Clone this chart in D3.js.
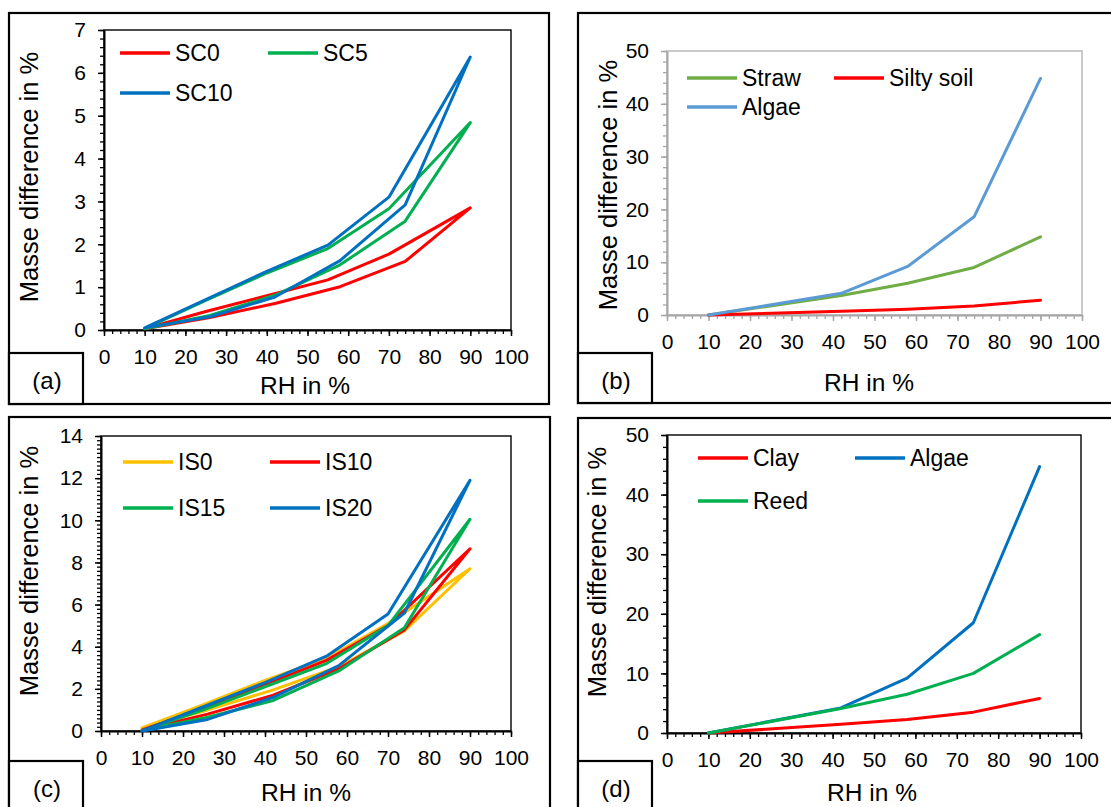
<!DOCTYPE html>
<html>
<head>
<meta charset="utf-8">
<script src="https://cdn.jsdelivr.net/npm/d3@7"></script>
<style>
  html, body { margin: 0; padding: 0; background: #fff; }
  svg { display: block; font-family: "Liberation Sans", Arial, sans-serif; }
</style>
</head>
<body>
<svg id="chart" width="1111" height="807"></svg>
<script>
// ---------- data ----------
const xTicks = [0, 10, 20, 30, 40, 50, 60, 70, 80, 90, 100];
const rhAds = [10, 26, 42, 58, 74, 90];   // adsorption path
const rhDes = [90, 70, 55, 40, 25, 10];   // desorption path

// panel (a)
const namesA = ["SC0", "SC5", "SC10"];
const sc0Ads = [0.03, 0.29, 0.62, 1.01, 1.60, 2.85];
const sc0Des = [2.85, 1.77, 1.17, 0.80, 0.43, 0.03];
const sc5Ads = [0.03, 0.34, 0.81, 1.52, 2.54, 4.84];
const sc5Des = [4.84, 2.83, 1.90, 1.33, 0.69, 0.03];
const sc10Ads = [0.05, 0.31, 0.77, 1.62, 2.92, 6.37];
const sc10Des = [6.37, 3.10, 1.98, 1.37, 0.71, 0.05];

// panel (b)
const namesB = ["Straw", "Silty soil", "Algae"];
const rhB = [10, 42, 58, 74, 90];
const strawB = [0, 3.7, 6.0, 9.0, 14.8];
const siltyB = [0, 0.7, 1.1, 1.7, 2.8];
const algaeB = [0, 4.1, 9.2, 18.6, 44.8];

// panel (c)
const namesC = ["IS0", "IS10", "IS15", "IS20"];
const is0Ads = [0.15, 1.0, 1.95, 3.05, 4.75, 7.7];
const is0Des = [7.7, 5.1, 3.45, 2.4, 1.25, 0.15];
const is10Ads = [0.05, 0.8, 1.7, 2.95, 4.8, 8.65];
const is10Des = [8.65, 5.0, 3.35, 2.2, 1.05, 0.05];
const is15Ads = [0.02, 0.65, 1.45, 2.85, 4.9, 10.05];
const is15Des = [10.05, 5.0, 3.2, 2.1, 1.0, 0.02];
const is20Ads = [0, 0.55, 1.6, 3.1, 5.6, 11.9];
const is20Des = [11.9, 5.55, 3.55, 2.3, 1.15, 0];

// panel (d)
const namesD = ["Clay", "Algae", "Reed"];
const rhD = [10, 42, 58, 74, 90];
const clayD = [0, 1.45, 2.25, 3.5, 5.8];
const algaeD = [0, 4.2, 9.2, 18.5, 44.7];
const reedD = [0, 4.1, 6.5, 10.0, 16.5];

// ---------- helpers ----------
const svg = d3.select("#chart");
const zip = (xs, ys) => xs.map((x, i) => [x, ys[i]]);
const loop = (ads, des) => zip(rhAds, ads).concat(zip(rhDes, des));
const FONT = "Liberation Sans, Arial, sans-serif";

function panel(cfg) {
  const g = svg.append("g");
  // outer frame
  g.append("rect").attr("x", cfg.frame[0]).attr("y", cfg.frame[1])
    .attr("width", cfg.frame[2]).attr("height", cfg.frame[3])
    .attr("fill", "none").attr("stroke", "#000").attr("stroke-width", 2.2);
  // label box
  g.append("rect").attr("x", cfg.lbox[0]).attr("y", cfg.lbox[1])
    .attr("width", cfg.lbox[2]).attr("height", cfg.lbox[3])
    .attr("fill", "#fff").attr("stroke", "#000").attr("stroke-width", 2.2);
  g.append("text").attr("x", cfg.lbox[0] + cfg.lbox[2] / 2 + 1).attr("y", cfg.lblY)
    .attr("text-anchor", "middle").attr("font-size", 24).text(cfg.label);

  const x = d3.scaleLinear().domain([0, 100]).range([cfg.x0, cfg.x1]);
  const y = d3.scaleLinear().domain([0, cfg.ymax]).range([cfg.yb, cfg.yt]);
  const ac = cfg.axisColor;

  // plot area frame
  g.append("rect").attr("x", cfg.x0).attr("y", cfg.yt)
    .attr("width", cfg.x1 - cfg.x0).attr("height", cfg.yb - cfg.yt)
    .attr("fill", "none").attr("stroke", cfg.frameColor).attr("stroke-width", 1.4);

  // minor ticks
  const minorX = d3.range(0, 100.001, 2);
  g.append("g").attr("transform", `translate(0,${cfg.yb})`)
    .call(d3.axisBottom(x).tickValues(minorX).tickSize(4).tickFormat(""))
    .call(s => s.select(".domain").remove())
    .call(s => s.selectAll("line").attr("stroke", ac).attr("stroke-width", 1.3));
  const minorY = d3.range(0, cfg.ymax + 1e-6, cfg.yminor);
  g.append("g").attr("transform", `translate(${cfg.x0},0)`)
    .call(d3.axisLeft(y).tickValues(minorY).tickSize(4).tickFormat(""))
    .call(s => s.select(".domain").remove())
    .call(s => s.selectAll("line").attr("stroke", ac).attr("stroke-width", 1.3));

  // major axes
  const gx = g.append("g").attr("transform", `translate(0,${cfg.yb})`)
    .call(d3.axisBottom(x).tickValues(xTicks).tickSize(6).tickSizeOuter(0)
      .tickPadding(13).tickFormat(d3.format("d")));
  gx.select(".domain").attr("stroke", ac).attr("stroke-width", 2);
  gx.selectAll("line").attr("stroke", ac).attr("stroke-width", 1.5);
  gx.selectAll("text").attr("font-size", 21).attr("fill", "#000").attr("font-family", FONT);

  const yTicks = d3.range(0, cfg.ymax + 1e-6, cfg.ystep);
  const gy = g.append("g").attr("transform", `translate(${cfg.x0},0)`)
    .call(d3.axisLeft(y).tickValues(yTicks).tickSize(6).tickSizeOuter(0)
      .tickPadding(12).tickFormat(d3.format("d")));
  gy.select(".domain").attr("stroke", ac).attr("stroke-width", 2);
  gy.selectAll("line").attr("stroke", ac).attr("stroke-width", 1.5);
  gy.selectAll("text").attr("font-size", 21).attr("fill", "#000").attr("font-family", FONT);

  // axis titles
  g.append("text").attr("x", cfg.xtX).attr("y", cfg.xtY)
    .attr("text-anchor", "middle").attr("font-size", 24.5).text("RH in %");
  g.append("text")
    .attr("transform", `translate(${cfg.ytX},${cfg.ytY}) rotate(-90)`)
    .attr("text-anchor", "middle").attr("font-size", 25.5).text("Masse difference in %");

  // series
  const line = d3.line().x(d => x(d[0])).y(d => y(d[1]));
  cfg.series.forEach(s => {
    g.append("path").datum(s.pts).attr("d", line)
      .attr("fill", "none").attr("stroke", s.color).attr("stroke-width", 3)
      .attr("stroke-linejoin", "round").attr("stroke-linecap", "round");
  });

  // legend
  cfg.legend.forEach(l => {
    g.append("line").attr("x1", l.x).attr("x2", l.x + 50).attr("y1", l.y).attr("y2", l.y)
      .attr("stroke", l.color).attr("stroke-width", 3.5);
    g.append("text").attr("x", l.x + 55).attr("y", l.y + 8)
      .attr("font-size", 23).text(l.name);
  });
}

const RED = "#FF0000", GRN = "#00B050", BLU = "#0070C0";

panel({
  frame: [9, 13, 540, 391], lbox: [9, 353, 74, 51], label: "(a)", lblY: 389,
  x0: 104, x1: 511, yb: 330, yt: 30, ymax: 7, ystep: 1, yminor: 0.2,
  axisColor: "#000", frameColor: "#000",
  xtX: 305, xtY: 394, ytX: 38, ytY: 177,
  series: [
    { pts: loop(sc0Ads, sc0Des), color: RED },
    { pts: loop(sc5Ads, sc5Des), color: GRN },
    { pts: loop(sc10Ads, sc10Des), color: BLU }
  ],
  legend: [
    { name: namesA[0], color: RED, x: 120, y: 53 },
    { name: namesA[1], color: GRN, x: 268, y: 53 },
    { name: namesA[2], color: BLU, x: 120, y: 93 }
  ]
});

panel({
  frame: [578, 13, 560, 390], lbox: [578, 353, 74, 50], label: "(b)", lblY: 389,
  x0: 667, x1: 1082, yb: 315, yt: 51, ymax: 50, ystep: 10, yminor: 2,
  axisColor: "#A6A6A6", frameColor: "#B4B4B4",
  xtX: 869, xtY: 391, ytX: 617, ytY: 185,
  series: [
    { pts: zip(rhB, strawB), color: "#70AD47" },
    { pts: zip(rhB, siltyB), color: RED },
    { pts: zip(rhB, algaeB), color: "#5B9BD5" }
  ],
  legend: [
    { name: namesB[0], color: "#70AD47", x: 687, y: 78 },
    { name: namesB[1], color: RED, x: 834, y: 78 },
    { name: namesB[2], color: "#5B9BD5", x: 687, y: 107 }
  ]
});

panel({
  frame: [9, 417, 541, 400], lbox: [9, 761, 74, 60], label: "(c)", lblY: 797,
  x0: 101, x1: 511, yb: 731, yt: 436, ymax: 14, ystep: 2, yminor: 0.2,
  axisColor: "#000", frameColor: "#000",
  xtX: 306, xtY: 801, ytX: 38, ytY: 571,
  series: [
    { pts: loop(is0Ads, is0Des), color: "#FFC000" },
    { pts: loop(is10Ads, is10Des), color: RED },
    { pts: loop(is15Ads, is15Des), color: GRN },
    { pts: loop(is20Ads, is20Des), color: BLU }
  ],
  legend: [
    { name: namesC[0], color: "#FFC000", x: 123, y: 462 },
    { name: namesC[1], color: RED, x: 270, y: 462 },
    { name: namesC[2], color: GRN, x: 123, y: 508 },
    { name: namesC[3], color: BLU, x: 270, y: 508 }
  ]
});

panel({
  frame: [578, 418, 560, 400], lbox: [578, 761, 74, 60], label: "(d)", lblY: 797,
  x0: 667, x1: 1081, yb: 733, yt: 435, ymax: 50, ystep: 10, yminor: 2,
  axisColor: "#000", frameColor: "#000",
  xtX: 872, xtY: 801, ytX: 606, ytY: 572,
  series: [
    { pts: zip(rhD, clayD), color: RED },
    { pts: zip(rhD, algaeD), color: BLU },
    { pts: zip(rhD, reedD), color: GRN }
  ],
  legend: [
    { name: namesD[0], color: RED, x: 698, y: 458 },
    { name: namesD[1], color: BLU, x: 855, y: 458 },
    { name: namesD[2], color: GRN, x: 698, y: 501 }
  ]
});
</script>
</body>
</html>
